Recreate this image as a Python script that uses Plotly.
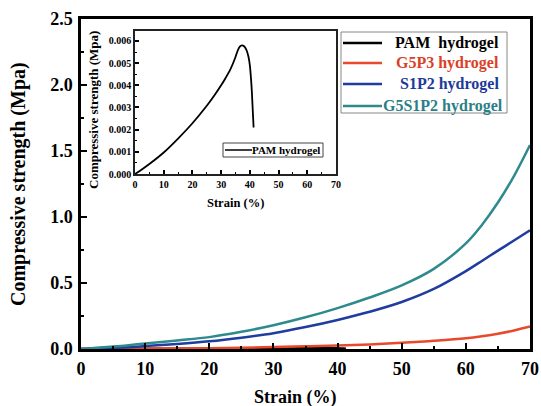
import plotly.graph_objects as go

# Strain (%) and compressive strength (MPa) for each hydrogel
strain = [0, 5, 10, 15, 20, 25, 30, 35, 40, 45, 50, 55, 60, 62.5, 65, 67.5, 70]
g5s1p2 = [0, 0.018, 0.042, 0.065, 0.09, 0.13, 0.18, 0.24, 0.31, 0.39, 0.482,
          0.607, 0.80, 0.94, 1.11, 1.31, 1.545]
s1p2 = [0, 0.008, 0.022, 0.038, 0.058, 0.086, 0.12, 0.166, 0.22, 0.282, 0.356,
        0.455, 0.59, 0.667, 0.745, 0.822, 0.90]
g5p3 = [0, 0.001, 0.003, 0.004, 0.006, 0.010, 0.015, 0.020, 0.026, 0.035, 0.047,
        0.062, 0.081, 0.096, 0.115, 0.14, 0.17]

# PAM hydrogel: loading curve until fracture
pam_strain = [0, 2, 5, 10, 15, 20, 25, 27.5, 30, 31.5, 33, 34, 35, 35.8, 36.5, 37.2,
              38.0, 38.8, 39.5, 40.0, 40.4, 40.7, 41.0, 41.3]
pam_stress = [0, 0.00017, 0.00045, 0.00097, 0.00160, 0.00229, 0.00308, 0.00352,
              0.00400, 0.00432, 0.00466, 0.00495, 0.00528, 0.00558, 0.00574, 0.00580,
              0.00576, 0.00560, 0.00530, 0.00490, 0.00430, 0.00370, 0.00290, 0.00210]

series_names = ["PAM  hydrogel", "G5P3 hydrogel", "S1P2 hydrogel", "G5S1P2 hydrogel"]
line_colors = ["#000000", "#E8492B", "#1F3C9E", "#2E8A8D"]
text_colors = ["#000000", "#DC3F27", "#1E3A98", "#2B7F86"]

x_ticks = [0, 10, 20, 30, 40, 50, 60, 70]
y_ticks = [0.0, 0.5, 1.0, 1.5, 2.0, 2.5]

FONT = "Liberation Serif"

fig = go.Figure()

# main panel
fig.add_trace(go.Scatter(x=pam_strain, y=pam_stress, mode="lines",
                         line=dict(color=line_colors[0], width=2.5, shape="spline"),
                         name=series_names[0], showlegend=False))
for ys, col, nm in [(g5p3, line_colors[1], series_names[1]),
                    (s1p2, line_colors[2], series_names[2]),
                    (g5s1p2, line_colors[3], series_names[3])]:
    fig.add_trace(go.Scatter(x=strain, y=ys, mode="lines",
                             line=dict(color=col, width=2.5, shape="spline", smoothing=1.0),
                             name=nm, showlegend=False))

# inset panel
fig.add_trace(go.Scatter(x=pam_strain, y=pam_stress, mode="lines",
                         line=dict(color="#000000", width=1.8, shape="spline", smoothing=0.6),
                         xaxis="x2", yaxis="y2", showlegend=False))

X0, X1 = 81, 530
Y0, Y1 = 19, 349
W, H = 541, 406


def px(x):
    return (x - X0) / (X1 - X0)


def py(y):
    return (Y1 - y) / (Y1 - Y0)


main_font = dict(family=FONT, size=18, color="#000", weight="bold")
inset_font = dict(family=FONT, size=10, color="#000", weight="bold")

fig.update_layout(
    width=W, height=H,
    margin=dict(l=X0, r=W - X1, t=Y0, b=H - Y1, autoexpand=False),
    paper_bgcolor="white", plot_bgcolor="white",
    showlegend=False,
    xaxis=dict(range=[0, 70], tickvals=x_ticks, ticks="inside", ticklen=6, tickwidth=2,
               tickcolor="#000", showline=True, linecolor="#000", linewidth=2.5,
               mirror=True, showgrid=False, zeroline=False, tickfont=main_font,
               ticklabelstandoff=2, automargin=False,
               minor=dict(dtick=5, ticks="inside", ticklen=3, tickwidth=2, tickcolor="#000",
                          showgrid=False)),
    yaxis=dict(range=[0, 2.5], tickvals=y_ticks, tickformat=".1f", ticks="inside", ticklen=6,
               tickwidth=2, tickcolor="#000", showline=True, linecolor="#000", linewidth=2.5,
               mirror=True, showgrid=False, zeroline=False, tickfont=main_font,
               ticklabelstandoff=2, automargin=False,
               minor=dict(dtick=0.25, ticks="inside", ticklen=3, tickwidth=2, tickcolor="#000",
                          showgrid=False)),
    xaxis2=dict(domain=[px(135), px(336)], anchor="y2", range=[0, 70], dtick=10,
                ticks="inside", ticklen=4, tickwidth=1.5, tickcolor="#000",
                showline=True, linecolor="#222", linewidth=1.5, mirror=True,
                showgrid=False, zeroline=False, tickfont=inset_font, ticklabelstandoff=0,
                automargin=False,
                minor=dict(dtick=5, ticks="inside", ticklen=2, tickwidth=1, tickcolor="#000")),
    yaxis2=dict(domain=[py(174), py(31)], anchor="x2", range=[0, 0.00645], dtick=0.001,
                tickformat=".3f", ticks="inside", ticklen=4, tickwidth=1.5, tickcolor="#000",
                showline=True, linecolor="#222", linewidth=1.5, mirror=True,
                showgrid=False, zeroline=False, tickfont=inset_font, ticklabelstandoff=0,
                automargin=False,
                minor=dict(dtick=0.0005, ticks="inside", ticklen=2, tickwidth=1,
                           tickcolor="#000")),
)


def label(text, x, y, size, color="#000", angle=0, xanchor="center"):
    return dict(text=text, x=px(x), y=py(y), xref="paper", yref="paper",
                xanchor=xanchor, yanchor="middle", showarrow=False, textangle=angle,
                font=dict(family=FONT, size=size, color=color, weight="bold"))


annotations = [
    label("Strain (%)", 295, 397, 18),
    label("Compressive strength (Mpa)", 18, 184, 20, angle=-90),
    label("Strain (%)", 235, 203, 12.5),
    label("Compressive strength (Mpa)", 93, 110, 13, angle=-90),
    label("PAM hydrogel", 322, 150, 11, xanchor="right"),
]

shapes = [
    # inset legend
    dict(type="rect", xref="paper", yref="paper", x0=px(223), x1=px(323), y0=py(157), y1=py(143),
         line=dict(color="#444", width=1), fillcolor="white"),
    dict(type="line", xref="paper", yref="paper", x0=px(225), x1=px(252), y0=py(150), y1=py(150),
         line=dict(color="#000", width=1.5)),
    # main legend
    dict(type="rect", xref="paper", yref="paper", x0=px(341), x1=px(507), y0=py(113), y1=py(32),
         line=dict(color="#888", width=1), fillcolor="white"),
]

legend_rows = [43, 63, 84, 106]
for i, row in enumerate(legend_rows):
    shapes.append(dict(type="line", xref="paper", yref="paper", x0=px(343), x1=px(382),
                       y0=py(row), y1=py(row), line=dict(color=line_colors[i], width=2.5)))
    annotations.append(label(series_names[i], 501 if i < 3 else 505, row, 16,
                             color=text_colors[i], xanchor="right"))

fig.update_layout(annotations=annotations, shapes=shapes)

fig.write_html("out.html")
